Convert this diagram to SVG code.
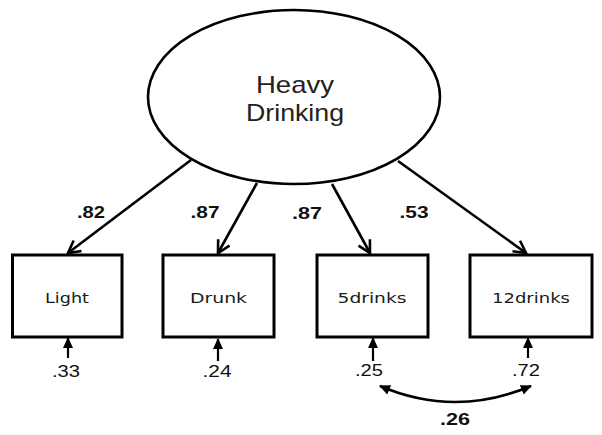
<svg xmlns="http://www.w3.org/2000/svg" width="602" height="435" viewBox="0 0 602 435">
<style>
  .node-shape { fill: #fff; stroke: #000; }
  .lbl { font-family: "Liberation Sans", Arial, sans-serif; fill: #222; }
  .box-lbl { font-family: "DejaVu Sans", Verdana, sans-serif; font-size: 14px; fill: #1a1a1a; text-anchor: middle; }
  .load { font-family: "Liberation Sans", Arial, sans-serif; font-size: 17px; font-weight: bold; fill: #111; text-anchor: middle; }
  .err { font-family: "Liberation Sans", Arial, sans-serif; font-size: 17px; fill: #111; text-anchor: middle; }
  .path { stroke: #000; stroke-width: 2.6; fill: none; }
  .epath { stroke: #000; stroke-width: 2.2; fill: none; }
</style>
<defs>
  <marker id="openArrow" markerUnits="userSpaceOnUse" markerWidth="16" markerHeight="16" viewBox="0 0 16 16" refX="14" refY="8" orient="auto">
    <path d="M2,1.5 L14,8 L2,14.5" fill="none" stroke="#000" stroke-width="2.6" stroke-linejoin="miter"/>
  </marker>
  <marker id="solidArrow" markerUnits="userSpaceOnUse" markerWidth="12" markerHeight="12" viewBox="0 0 12 12" refX="10" refY="6" orient="auto-start-reverse">
    <path d="M0,1 L11,6 L0,11 Z" fill="#000"/>
  </marker>
</defs>

<g id="connectors">
  <line class="path" x1="191" y1="160" x2="68" y2="253" marker-end="url(#openArrow)"/>
  <line class="path" x1="257" y1="183" x2="218" y2="253" marker-end="url(#openArrow)"/>
  <line class="path" x1="332" y1="184" x2="370" y2="253" marker-end="url(#openArrow)"/>
  <line class="path" x1="398" y1="161" x2="526" y2="253" marker-end="url(#openArrow)"/>
  <line class="epath" x1="68" y1="358" x2="68" y2="338" marker-end="url(#solidArrow)"/>
  <line class="epath" x1="218" y1="361" x2="218" y2="339" marker-end="url(#solidArrow)"/>
  <line class="epath" x1="373" y1="361" x2="373" y2="338" marker-end="url(#solidArrow)"/>
  <line class="epath" x1="528" y1="358" x2="528" y2="338" marker-end="url(#solidArrow)"/>
  <path class="path" d="M380,386 Q455,418 531,386" marker-start="url(#solidArrow)" marker-end="url(#solidArrow)"/>
  <text class="load" x="91" y="218" textLength="28" lengthAdjust="spacingAndGlyphs">.82</text>
  <text class="load" x="205" y="218" textLength="29" lengthAdjust="spacingAndGlyphs">.87</text>
  <text class="load" x="307" y="219" textLength="30" lengthAdjust="spacingAndGlyphs">.87</text>
  <text class="load" x="414" y="218" textLength="29" lengthAdjust="spacingAndGlyphs">.53</text>
  <text class="err" x="66" y="377" textLength="28" lengthAdjust="spacingAndGlyphs">.33</text>
  <text class="err" x="217" y="377" textLength="29" lengthAdjust="spacingAndGlyphs">.24</text>
  <text class="err" x="369" y="376" textLength="28" lengthAdjust="spacingAndGlyphs">.25</text>
  <text class="err" x="526" y="376" textLength="28" lengthAdjust="spacingAndGlyphs">.72</text>
  <text class="load" x="455" y="425" textLength="30" lengthAdjust="spacingAndGlyphs">.26</text>
</g>

<g id="heavy-drinking">
  <ellipse class="node-shape" cx="294" cy="97" rx="146" ry="87" stroke-width="2.6"/>
  <text class="lbl" x="295" y="93" font-size="24" text-anchor="middle" textLength="78" lengthAdjust="spacingAndGlyphs">Heavy</text>
  <text class="lbl" x="295" y="121" font-size="24" text-anchor="middle" textLength="98" lengthAdjust="spacingAndGlyphs">Drinking</text>
</g>

<g id="light">
  <rect class="node-shape" x="12.5" y="255" width="109.5" height="82" stroke-width="3"/>
  <text class="box-lbl" x="67" y="303" textLength="44" lengthAdjust="spacingAndGlyphs">Light</text>
</g>
<g id="drunk">
  <rect class="node-shape" x="163" y="255" width="111" height="82" stroke-width="3"/>
  <text class="box-lbl" x="218.5" y="303" textLength="57" lengthAdjust="spacingAndGlyphs">Drunk</text>
</g>
<g id="fivedrinks">
  <rect class="node-shape" x="317" y="255" width="111" height="82" stroke-width="3"/>
  <text class="box-lbl" x="372" y="303" textLength="69" lengthAdjust="spacingAndGlyphs">5drinks</text>
</g>
<g id="twelvedrinks">
  <rect class="node-shape" x="470" y="255" width="122" height="82" stroke-width="3"/>
  <text class="box-lbl" x="531" y="303" textLength="78" lengthAdjust="spacingAndGlyphs">12drinks</text>
</g>
</svg>
